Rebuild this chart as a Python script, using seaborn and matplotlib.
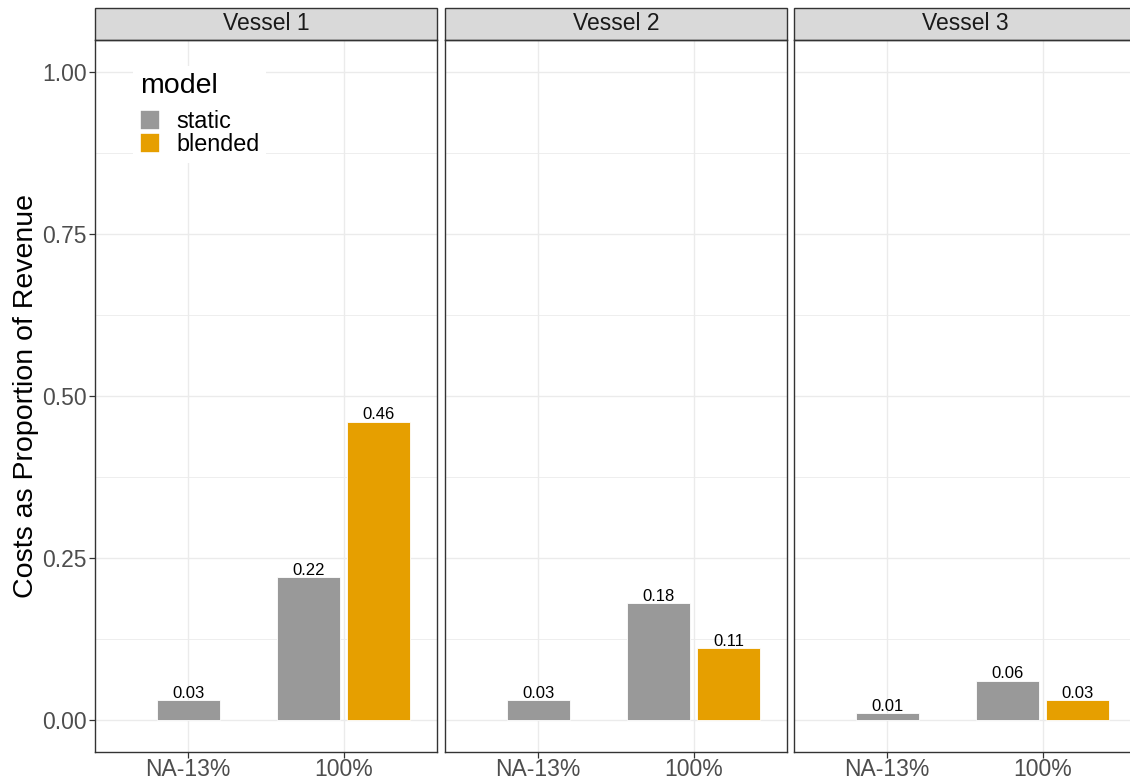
import numpy as np
import pandas as pd
import matplotlib
matplotlib.use('Agg')
import matplotlib.pyplot as plt
import seaborn as sns
from matplotlib.patches import Patch, Rectangle
from matplotlib.ticker import MultipleLocator

# data
vessels = ['Vessel 1', 'Vessel 2', 'Vessel 3']
scenarios = ['NA-13%', '100%']
models = ['static', 'blended']
static_cost = [[0.03, 0.22], [0.03, 0.18], [0.01, 0.06]]
blended_cost = [[np.nan, 0.46], [np.nan, 0.11], [np.nan, 0.03]]
model_colors = {'static': '#999999', 'blended': '#E69F00'}

sns.set_theme(style='white')
plt.rcParams['font.family'] = ['Liberation Sans', 'DejaVu Sans']

rows = []
for i, v in enumerate(vessels):
    for j, s in enumerate(scenarios):
        rows.append([v, s, 'static', static_cost[i][j]])
        rows.append([v, s, 'blended', blended_cost[i][j]])
df = pd.DataFrame(rows, columns=['vessel', 'scenario', 'model', 'cost']).dropna()

W, H = 1130, 781
fig = plt.figure(figsize=(W / 100, H / 100), dpi=100)

lefts = [95, 445, 794]
pw, top, bottom, strip_h = 342, 40, 752, 32
grid_col = '#EBEBEB'
dark = '#333333'

axes = []
for k, v in enumerate(vessels):
    ax = fig.add_axes([lefts[k] / W, (H - bottom) / H, pw / W, (bottom - top) / H])
    axes.append(ax)
    sub = df[df['vessel'] == v]
    sns.barplot(data=sub, x='scenario', y='cost', hue='model', order=scenarios,
                hue_order=models, palette=model_colors, width=0.9, dodge=True,
                errorbar=None, edgecolor='white', linewidth=0.6, saturation=1,
                legend=False, ax=ax, zorder=3)

    # dodge2-like: pad each bar and centre single bars in their slot
    bars = [p for p in ax.patches if isinstance(p, Rectangle) and p.get_height() > 0]
    slots = {}
    for p in bars:
        c = p.get_x() + p.get_width() / 2
        slots.setdefault(int(round(c)), []).append(p)
    for cat, plist in slots.items():
        for p in plist:
            w = p.get_width()
            c = p.get_x() + w / 2
            if len(plist) == 1:
                c = cat
            p.set_width(w * 0.9)
            p.set_x(c - w * 0.45)
            ax.text(c, p.get_height() + 0.004, f'{p.get_height():.2f}',
                    ha='center', va='baseline', fontsize=12, color='black', zorder=4)

    ax.set_xlim(-0.6, 1.6)
    ax.set_ylim(-0.05, 1.05)
    ax.yaxis.set_major_locator(MultipleLocator(0.25))
    ax.yaxis.set_minor_locator(MultipleLocator(0.125))
    ax.set_axisbelow(True)
    ax.grid(which='major', color=grid_col, linewidth=1.0, zorder=0)
    ax.grid(which='minor', axis='y', color=grid_col, linewidth=0.6, zorder=0)
    for sp in ax.spines.values():
        sp.set_color(dark)
        sp.set_linewidth(1.0)
    ax.tick_params(axis='both', which='major', length=4, width=0.9, color=dark,
                   labelsize=16.5, labelcolor='#4D4D4D', pad=2, bottom=True, left=True)
    ax.tick_params(axis='x', pad=0.5)
    ax.tick_params(which='minor', length=0)
    ax.set_xlabel('')
    if k == 0:
        ax.set_yticks([0, 0.25, 0.5, 0.75, 1.0])
        ax.set_yticklabels(['0.00', '0.25', '0.50', '0.75', '1.00'])
        ax.set_ylabel('Costs as Proportion of Revenue', fontsize=20.5, color='black', labelpad=2)
    else:
        ax.tick_params(axis='y', left=False, labelleft=False)
        ax.set_ylabel('')

    # facet strip
    sh = strip_h / (bottom - top)
    ax.add_patch(Rectangle((0, 1), 1, sh, transform=ax.transAxes, clip_on=False,
                           facecolor='#D9D9D9', edgecolor=dark, linewidth=1.0))
    ax.text(0.5, 1 + sh / 2, v, transform=ax.transAxes, ha='center', va='center',
            fontsize=16.5, color='#1A1A1A')

handles = [Patch(facecolor=model_colors[m], edgecolor='white', linewidth=1.2, label=m)
           for m in models]
leg = axes[0].legend(handles=handles, title='model', loc='upper left',
                     bbox_to_anchor=(133 / W, 1 - 66 / H), bbox_transform=fig.transFigure,
                     borderaxespad=0, fontsize=16.8, title_fontsize=20.5, frameon=True,
                     fancybox=False, framealpha=1, edgecolor='white', facecolor='white',
                     handlelength=0.85, handleheight=0.95, handletextpad=0.7,
                     labelspacing=0.0, borderpad=0.3, alignment='left', labelcolor='black')
leg.get_frame().set_linewidth(0)
leg.get_title().set_color('black')
leg._legend_box.sep = 8

fig.savefig('out.png', dpi=100)
